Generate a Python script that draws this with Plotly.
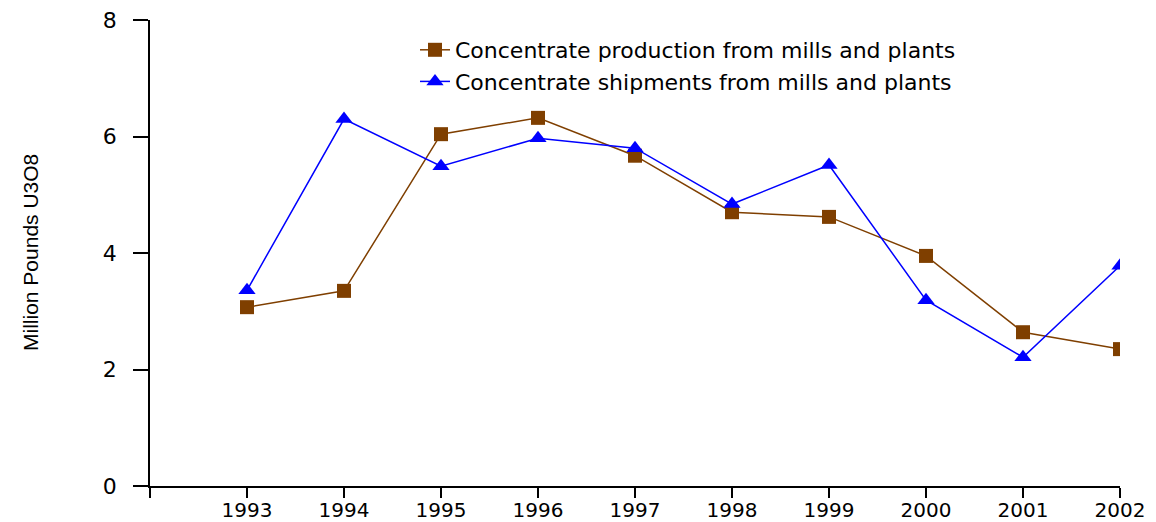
import plotly.graph_objects as go

years = [1993, 1994, 1995, 1996, 1997, 1998, 1999, 2000, 2001, 2002]
production = [3.07, 3.35, 6.04, 6.32, 5.67, 4.70, 4.62, 3.95, 2.64, 2.35]
shipments = [3.36, 6.30, 5.49, 5.97, 5.80, 4.84, 5.51, 3.19, 2.21, 3.78]
x_tick_vals = [1992, 1993, 1994, 1995, 1996, 1997, 1998, 1999, 2000, 2001, 2002]
x_tick_text = ["", "1993", "1994", "1995", "1996", "1997", "1998", "1999", "2000", "2001", "2002"]
y_tick_vals = [0, 2, 4, 6, 8]

brown = "#7F3F00"
blue = "#0000FF"
font_main = "DejaVu Sans, Liberation Sans, sans-serif"

fig = go.Figure()
fig.add_trace(go.Scatter(
    x=years, y=production, mode="lines+markers",
    name="Concentrate production from mills and plants",
    line=dict(color=brown, width=1.5),
    marker=dict(symbol="square", size=14, color=brown),
))
fig.add_trace(go.Scatter(
    x=years, y=shipments, mode="lines+markers",
    name="Concentrate shipments from mills and plants",
    line=dict(color=blue, width=1.5),
    marker=dict(symbol="triangle-up", size=15, color=blue),
))

# page has an 8px body margin; plot area spans x 150..1120, y 20..486 in the window
fig.update_layout(
    width=1148, height=514,
    margin=dict(l=142, r=36, t=12, b=36),
    paper_bgcolor="white", plot_bgcolor="white",
    font=dict(family=font_main, size=20, color="black"),
    showlegend=True,
    legend=dict(
        x=(415 - 150) / 970, y=(486 - 29) / 466, xanchor="left", yanchor="top",
        bgcolor="rgba(0,0,0,0)", font=dict(size=22, family=font_main),
        tracegroupgap=0, itemwidth=30,
    ),
    xaxis=dict(
        range=[1992, 2002], tickmode="array", tickvals=x_tick_vals, ticktext=x_tick_text,
        showgrid=False, zeroline=False, showline=True, linecolor="black", linewidth=1.5,
        ticks="outside", ticklen=10, tickwidth=1.5, tickcolor="black",
        ticklabelstandoff=-5, automargin=False, ticklabeloverflow="allow",
    ),
    yaxis=dict(
        range=[0, 8], tickmode="array", tickvals=y_tick_vals,
        showgrid=False, zeroline=False, showline=True, linecolor="black", linewidth=1.5,
        ticks="outside", ticklen=15, tickwidth=1.5, tickcolor="black",
        ticklabelstandoff=12, automargin=False, ticklabeloverflow="allow",
        tickfont=dict(size=22),
    ),
    annotations=[dict(
        text="Million Pounds U3O8", textangle=-90, xref="paper", yref="paper",
        x=(30 - 150) / 970, y=0.5, xanchor="center", yanchor="middle", showarrow=False,
        font=dict(family="Liberation Sans Narrow, Liberation Sans, sans-serif", size=21, color="black"),
    )],
)

fig.write_html("out.html")
